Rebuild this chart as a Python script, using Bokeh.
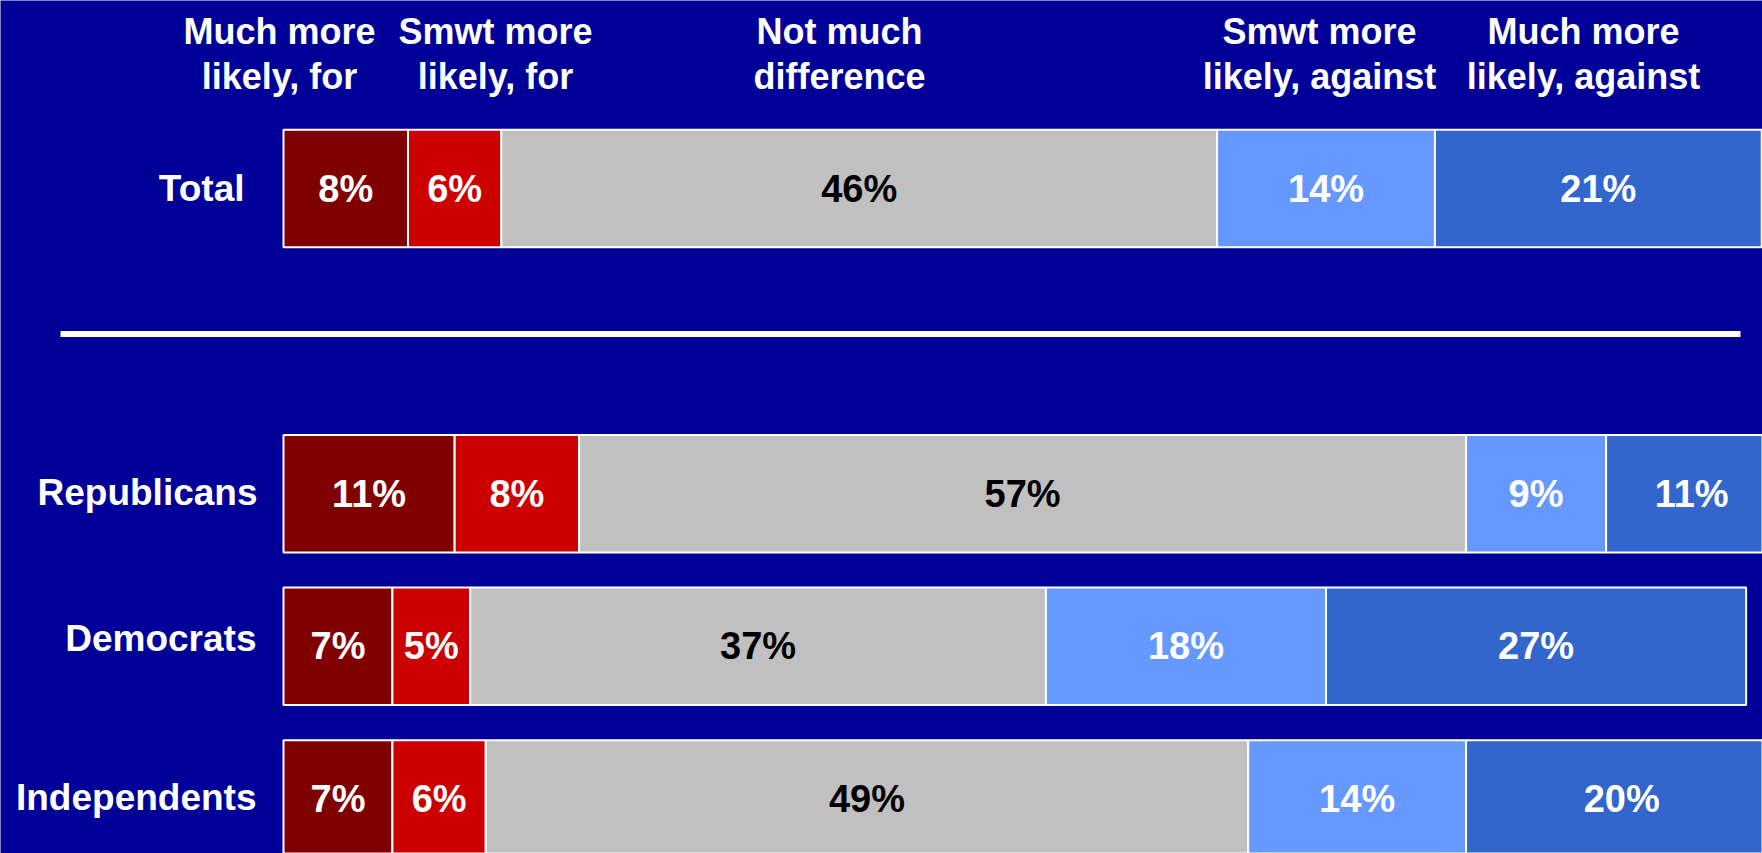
from bokeh.plotting import figure
from bokeh.models import Range1d, ColumnDataSource
from bokeh.core.properties import value
from bokeh.embed import file_html
from bokeh.resources import INLINE

# ---- data ----
rows = ["Total", "Republicans", "Democrats", "Independents"]
much_for = [8, 11, 7, 7]
smwt_for = [6, 8, 5, 6]
not_much = [46, 57, 37, 49]
smwt_against = [14, 9, 18, 14]
much_against = [21, 11, 27, 20]

series = [much_for, smwt_for, not_much, smwt_against, much_against]
series_colors = ["#800000", "#CC0000", "#C0C0C0", "#6699FF", "#3366CC"]
label_colors = ["white", "white", "black", "white", "white"]

headers = [
    ("Much more", "likely, for"),
    ("Smwt more", "likely, for"),
    ("Not much", "difference"),
    ("Smwt more", "likely, against"),
    ("Much more", "likely, against"),
]

# ---- layout ----
W, H = 1762, 853
BG = "#000099"
FONT = "Liberation Sans"

x0_px = 283.0      # pixel of 0 %
px_per_pct = 15.56
y0_px = 188.0      # pixel of first row center
slot_px = 152.6

def xd(px):
    return (px - x0_px) / px_per_pct

def yd(py):
    return (py - y0_px) / slot_px

# Total in slot 0, a blank slot, then the party rows
slots = [0] + [i + 2 for i in range(len(rows) - 1)]

p = figure(width=W, height=H, output_backend="svg", toolbar_location=None,
           x_range=Range1d(xd(0), xd(W)), y_range=Range1d(yd(H), yd(0)),
           min_border=0, background_fill_color=BG, border_fill_color=BG,
           outline_line_color=None)
p.axis.visible = False
p.grid.visible = False

left = [0.0] * len(rows)
for vals, col, lcol in zip(series, series_colors, label_colors):
    right = [l + v for l, v in zip(left, vals)]
    mid = [(l + r) / 2 for l, r in zip(left, right)]
    src = ColumnDataSource(dict(y=slots, left=left, right=right, mid=mid,
                                lab=[f"{v}%" for v in vals]))
    p.hbar(y="y", left="left", right="right", height=0.77, source=src,
           fill_color=col, line_color="white", line_width=2)
    p.text(x="mid", y="y", text="lab", source=src, text_color=lcol,
           text_font=value(FONT), text_font_style="bold", text_font_size="38px",
           text_align="center", text_baseline="middle")
    left = right

# row labels
label_right_px = [244, 257, 256, 256]
label_dy_px = [0, -1, -8, -1]
for name, s, rx, dy in zip(rows, slots, label_right_px, label_dy_px):
    p.text(x=[xd(rx)], y=[s], text=[name], y_offset=dy, text_color="white",
           text_font=value(FONT), text_font_style="bold", text_font_size="37px",
           text_align="right", text_baseline="middle")

# column headers
head_x = [279, 495, 839, 1319, 1583]
for hx, (l1, l2) in zip(head_x, headers):
    p.text(x=[xd(hx), xd(hx)], y=[yd(31), yd(76)], text=[l1, l2],
           text_color="white", text_font=value(FONT), text_font_style="bold",
           text_font_size="36px", text_align="center", text_baseline="alphabetic")

# separator line
p.segment(x0=[xd(60)], y0=[yd(333.5)], x1=[xd(1740)], y1=[yd(333.5)],
          line_color="white", line_width=6)

html = file_html(p, INLINE)
html = html.replace("<body>", '<body style="background:#000099">', 1)
open("out.html", "w").write(html)
